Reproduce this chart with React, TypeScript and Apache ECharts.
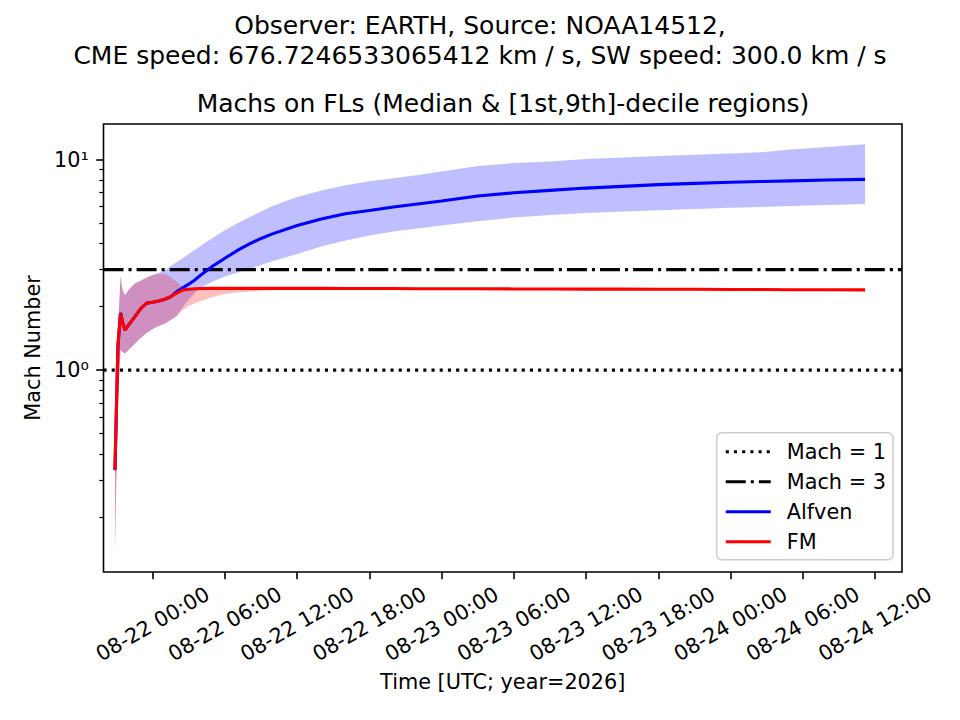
import React, { useEffect, useRef } from 'react';
import * as echarts from 'echarts';

const FONT = '"DejaVu Sans", "Liberation Sans", sans-serif';

const TIMES = [
  '2026-08-21 20:52', '2026-08-21 21:07', '2026-08-21 21:20', '2026-08-21 21:30', '2026-08-21 21:42',
  '2026-08-21 22:00', '2026-08-21 22:30', '2026-08-21 23:00', '2026-08-21 23:30', '2026-08-22 00:00',
  '2026-08-22 00:30', '2026-08-22 01:00', '2026-08-22 01:30', '2026-08-22 02:00', '2026-08-22 02:30',
  '2026-08-22 03:00', '2026-08-22 03:30', '2026-08-22 04:00', '2026-08-22 05:00', '2026-08-22 06:00',
  '2026-08-22 07:00', '2026-08-22 08:00', '2026-08-22 09:00', '2026-08-22 10:00', '2026-08-22 12:00',
  '2026-08-22 14:00', '2026-08-22 16:00', '2026-08-22 18:00', '2026-08-22 20:00', '2026-08-22 22:00',
  '2026-08-23 00:00', '2026-08-23 03:00', '2026-08-23 06:00', '2026-08-23 09:00', '2026-08-23 12:00',
  '2026-08-23 15:00', '2026-08-23 18:00', '2026-08-23 21:00', '2026-08-24 00:00', '2026-08-24 02:30',
  '2026-08-24 05:00', '2026-08-24 08:00', '2026-08-24 11:10',
];

const ALFVEN_MEDIAN = [
  0.335, 1.31, 1.87, 1.69, 1.55, 1.64, 1.785, 1.96, 2.08, 2.10, 2.13, 2.17, 2.23,
  2.36, 2.46, 2.56, 2.68, 2.83, 3.12, 3.40, 3.69, 3.97, 4.22, 4.45, 4.86, 5.22,
  5.53, 5.73, 5.95, 6.15, 6.35, 6.71, 6.95, 7.14, 7.32, 7.46, 7.60, 7.71, 7.80,
  7.86, 7.92, 7.99, 8.05,
];
const ALFVEN_LOW = [
  0.14, 0.72, 1.245, 1.22, 1.20, 1.245, 1.33, 1.42, 1.50, 1.566, 1.62, 1.66, 1.73,
  1.806, 1.992, 2.162, 2.322, 2.464, 2.633, 2.781, 2.904, 3.018, 3.154, 3.294, 3.556, 3.862,
  4.124, 4.355, 4.55, 4.70, 4.86, 5.10, 5.30, 5.45, 5.57, 5.66, 5.75, 5.83, 5.90,
  5.95, 6.01, 6.08, 6.15,
];
const ALFVEN_HIGH = [
  0.42, 1.55, 2.80, 2.40, 2.27, 2.40, 2.58, 2.66, 2.75, 2.83, 2.89, 2.98, 3.12,
  3.26, 3.40, 3.56, 3.72, 3.90, 4.25, 4.61, 4.97, 5.31, 5.67, 6.03, 6.64, 7.13,
  7.55, 7.88, 8.14, 8.44, 8.77, 9.31, 9.62, 9.78, 10.05, 10.22, 10.39, 10.53, 10.68,
  10.82, 11.16, 11.47, 11.81,
];

const FM_MEDIAN = [
  0.335, 1.31, 1.855, 1.69, 1.55, 1.64, 1.785, 1.96, 2.08, 2.10, 2.13, 2.17, 2.23,
  2.32, 2.40, 2.42, 2.435, 2.44, 2.445, 2.445, 2.445, 2.445, 2.445, 2.445, 2.445, 2.445,
  2.44, 2.44, 2.44, 2.435, 2.435, 2.435, 2.43, 2.43, 2.425, 2.425, 2.42, 2.42, 2.415,
  2.415, 2.41, 2.41, 2.405,
];
const FM_LOW = [
  0.14, 0.72, 1.245, 1.22, 1.20, 1.245, 1.33, 1.42, 1.50, 1.566, 1.62, 1.66, 1.73,
  1.806, 1.928, 2.014, 2.08, 2.13, 2.222, 2.297, 2.34, 2.36, 2.38, 2.40, 2.41, 2.425,
  2.428, 2.428, 2.428, 2.423, 2.423, 2.423, 2.418, 2.418, 2.413, 2.413, 2.408, 2.408, 2.403,
  2.403, 2.398, 2.398, 2.393,
];
const FM_HIGH = [
  0.42, 1.55, 2.80, 2.40, 2.27, 2.40, 2.58, 2.66, 2.75, 2.83, 2.87, 2.87, 2.77,
  2.62, 2.49, 2.45, 2.455, 2.46, 2.462, 2.462, 2.462, 2.462, 2.462, 2.462, 2.462, 2.462,
  2.457, 2.457, 2.457, 2.452, 2.452, 2.452, 2.447, 2.447, 2.442, 2.442, 2.437, 2.437, 2.432,
  2.432, 2.427, 2.427, 2.422,
];

const MACH_ONE = 1;
const MACH_THREE = 3;

const X_MIN = '2026-08-21 19:55';
const X_MAX = '2026-08-24 14:14';
const X_TICKS = [
  '2026-08-22 00:00', '2026-08-22 06:00', '2026-08-22 12:00', '2026-08-22 18:00',
  '2026-08-23 00:00', '2026-08-23 06:00', '2026-08-23 12:00', '2026-08-23 18:00',
  '2026-08-24 00:00', '2026-08-24 06:00', '2026-08-24 12:00',
];

const Y_MIN = 0.11;
const Y_MAX = 14.75;
const Y_MAJOR = [1, 10];
const Y_MINOR = [0.2, 0.3, 0.4, 0.5, 0.6, 0.7, 0.8, 0.9, 2, 3, 4, 5, 6, 7, 8, 9];

const TITLE_1 = 'Observer: EARTH, Source: NOAA14512,';
const TITLE_2 = 'CME speed: 676.7246533065412 km / s, SW speed: 300.0 km / s';
const SUBTITLE = 'Machs on FLs (Median & [1st,9th]-decile regions)';

function toMs(s: string): number {
  const [d, t] = s.split(' ');
  const [Y, M, D] = d.split('-').map(Number);
  const [h, m] = t.split(':').map(Number);
  return Date.UTC(Y, M - 1, D, h, m);
}

function fmtTime(v: number): string {
  const d = new Date(v);
  const p = (n: number) => String(n).padStart(2, '0');
  return `${p(d.getUTCMonth() + 1)}-${p(d.getUTCDate())} ${p(d.getUTCHours())}:${p(d.getUTCMinutes())}`;
}

const SUP: Record<string, string> = { '0': '⁰', '1': '¹', '2': '²', '-': '⁻' };

function fmtPow(v: number): string {
  const e = Math.round(Math.log10(v));
  return '10' + String(e).split('').map((c) => SUP[c] || c).join('');
}

function buildOption() {
  const T = TIMES.map(toMs);
  const xMin = toMs(X_MIN);
  const xMax = toMs(X_MAX);
  const pairs = (arr: number[]) => arr.map((v, i) => [T[i], v]);
  const lw = 3.1;

  const band = (name: string, lo: number[], hi: number[], color: string, z: number) => ({
    type: 'custom',
    name,
    silent: true,
    z,
    data: lo.map((v, i) => [T[i], v, hi[i]]),
    encode: { x: 0, y: [1, 2] },
    renderItem: (params: any, api: any) => {
      if (params.dataIndex !== 0) return null;
      const pts: number[][] = [];
      for (let i = 0; i < T.length; i++) pts.push(api.coord([T[i], hi[i]]));
      for (let i = T.length - 1; i >= 0; i--) pts.push(api.coord([T[i], lo[i]]));
      return { type: 'polygon', shape: { points: pts }, style: { fill: color, stroke: null } };
    },
  });

  return {
    animation: false,
    backgroundColor: '#ffffff',
    textStyle: { fontFamily: FONT },
    grid: {
      left: 103.5, top: 124, right: 58, bottom: 148,
      show: true, borderColor: '#000', borderWidth: 1.6, backgroundColor: 'transparent',
      containLabel: false, outerBoundsMode: 'none',
    },
    graphic: [
      { type: 'text', x: 480, y: 25, style: { text: TITLE_1, fill: '#000', fontSize: 25, fontFamily: FONT, align: 'center', verticalAlign: 'middle' } },
      { type: 'text', x: 480, y: 55, style: { text: TITLE_2, fill: '#000', fontSize: 25, fontFamily: FONT, align: 'center', verticalAlign: 'middle' } },
      { type: 'text', x: 503, y: 103, style: { text: SUBTITLE, fill: '#000', fontSize: 25, fontFamily: FONT, align: 'center', verticalAlign: 'middle' } },
    ],
    legend: {
      data: ['Mach = 1', 'Mach = 3', 'Alfven', 'FM'],
      orient: 'vertical',
      left: 716.7,
      top: 432.7,
      itemWidth: 45,
      itemHeight: 14,
      itemGap: 6,
      padding: [7, 7, 6, 7.5],
      backgroundColor: 'rgba(255,255,255,0.8)',
      borderColor: '#cccccc',
      borderWidth: 1.5,
      borderRadius: 5,
      selectedMode: false,
      itemStyle: { opacity: 0 },
      lineStyle: { width: 3.1 },
      textStyle: { fontFamily: FONT, fontSize: 20.8, color: '#000', lineHeight: 24, padding: [0, 0, 0, 11] },
    },
    xAxis: {
      type: 'value',
      min: xMin,
      max: xMax,
      name: 'Time [UTC; year=2026]',
      nameLocation: 'middle',
      nameGap: 99,
      nameTextStyle: { fontFamily: FONT, fontSize: 20.8, color: '#000' },
      axisLine: { show: false },
      splitLine: { show: false },
      axisTick: { show: true, customValues: X_TICKS.map(toMs), length: 7.3, lineStyle: { color: '#000', width: 1.6 } },
      axisLabel: {
        customValues: X_TICKS.map(toMs),
        formatter: (v: number) => fmtTime(v),
        rotate: 30,
        align: 'center',
        verticalAlign: 'middle',
        margin: 52,
        fontFamily: FONT,
        fontSize: 20.8,
        color: '#000',
      },
    },
    yAxis: [
      {
        type: 'log',
        logBase: 10,
        min: Y_MIN,
        max: Y_MAX,
        name: 'Mach Number',
        nameLocation: 'middle',
        nameGap: 58,
        nameTextStyle: { fontFamily: FONT, fontSize: 20.8, color: '#000' },
        axisLine: { show: false },
        splitLine: { show: false },
        minorTick: { show: false },
        axisTick: { show: true, customValues: Y_MAJOR, length: 7.3, lineStyle: { color: '#000', width: 1.6 } },
        axisLabel: {
          customValues: Y_MAJOR,
          formatter: (v: number) => fmtPow(v),
          margin: 14.6,
          fontFamily: FONT,
          fontSize: 20.8,
          color: '#000',
        },
      },
      {
        type: 'log',
        logBase: 10,
        min: Y_MIN,
        max: Y_MAX,
        position: 'left',
        axisLine: { show: false },
        splitLine: { show: false },
        axisLabel: { show: false },
        axisTick: { show: true, customValues: Y_MINOR, length: 4.2, lineStyle: { color: '#000', width: 1.2 } },
      },
    ],
    series: [
      band('alfven-band', ALFVEN_LOW, ALFVEN_HIGH, 'rgba(0,0,255,0.25)', 1),
      band('fm-band', FM_LOW, FM_HIGH, 'rgba(255,0,0,0.25)', 1),
      {
        type: 'line', name: 'Mach = 1', data: [[xMin, MACH_ONE], [xMax, MACH_ONE]], symbol: 'none', silent: true, z: 3,
        lineStyle: { color: '#000', width: lw, type: [3.1, 5.1], cap: 'butt' },
        itemStyle: { color: '#000' },
      },
      {
        type: 'line', name: 'Mach = 3', data: [[xMin, MACH_THREE], [xMax, MACH_THREE]], symbol: 'none', silent: true, z: 3,
        lineStyle: { color: '#000', width: lw, type: [20, 5, 3.1, 5], cap: 'butt' },
        itemStyle: { color: '#000' },
      },
      {
        type: 'line', name: 'Alfven', data: pairs(ALFVEN_MEDIAN), symbol: 'none', silent: true, z: 4,
        lineStyle: { color: '#0000ff', width: lw }, itemStyle: { color: '#0000ff' },
      },
      {
        type: 'line', name: 'FM', data: pairs(FM_MEDIAN), symbol: 'none', silent: true, z: 5,
        lineStyle: { color: '#ff0000', width: lw }, itemStyle: { color: '#ff0000' },
      },
    ],
  };
}

export default function App() {
  const ref = useRef<HTMLDivElement>(null);
  useEffect(() => {
    if (!ref.current) return;
    const chart = echarts.init(ref.current, undefined, { renderer: 'svg' });
    chart.setOption(buildOption() as any);
    return () => chart.dispose();
  }, []);
  return (
    <div
      ref={ref}
      style={{ position: 'absolute', left: 0, top: 0, width: 960, height: 720, background: '#fff' }}
    />
  );
}
